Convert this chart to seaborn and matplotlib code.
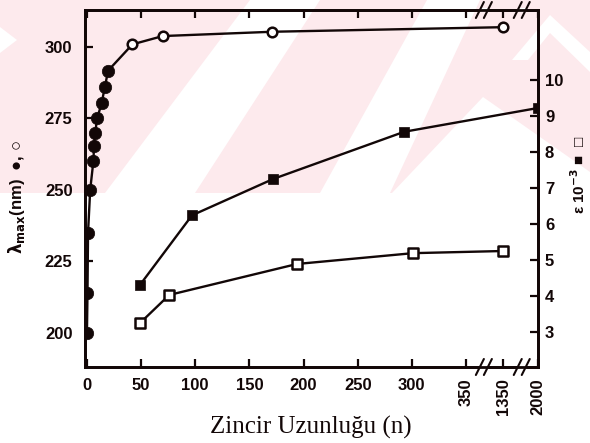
import numpy as np
import pandas as pd
import matplotlib
matplotlib.use("Agg")
import matplotlib.pyplot as plt
import seaborn as sns
from matplotlib.patches import Polygon
from matplotlib.ticker import FixedLocator, NullLocator

# --- data ---------------------------------------------------------------
# absorption maximum vs chain length (oligomers: filled, polymers: open)
n_filled = [0, 0.5, 1, 3, 6, 6.5, 7.5, 9.5, 13.5, 16.5, 19.5]
lam_filled = [200.0, 214.0, 235.0, 250.0, 260.2, 265.3, 269.8, 275.0, 280.2, 285.8, 291.6]
n_open = [42, 70, 171, 1350]
lam_open = [300.8, 303.7, 305.2, 306.8]

# molar absorptivity x 10^-3
n_eps_filled = [49, 97, 172, 293, 2000]
eps_filled = [4.31, 6.24, 7.25, 8.56, 9.22]
n_eps_open = [49, 76, 194, 301, 1350]
eps_open = [3.25, 4.03, 4.89, 5.19, 5.25]

x_ticks = [0, 50, 100, 150, 200, 250, 300, 350, 1350, 2000]
x_tick_labels = ["0", "50", "100", "150", "200", "250", "300", "350", "1350", "2000"]
lam_ticks = [200, 225, 250, 275, 300]
eps_ticks = [3, 4, 5, 6, 7, 8, 9, 10]
break_positions = [833, 1698]

sns.set_theme(style="ticks")
plt.rcParams["font.family"] = ["Liberation Sans", "DejaVu Sans"]
plt.rcParams["font.weight"] = "bold"
plt.rcParams["axes.linewidth"] = 1.8

W, H = 590, 443
fig = plt.figure(figsize=(W / 100, H / 100), dpi=100)
fig.patch.set_facecolor("white")


def P(x, y):
    """pixel position (top-left origin) -> figure fraction"""
    return (x / W, 1 - y / H)


# faint pink background band with white diagonal stripes
pink = "#fdeaed"
shapes = [
    (pink, [(0, 0), (590, 0), (590, 193), (0, 193)]),
    ("white", [(0, 27), (17, 40), (0, 53)]),
    ("white", [(105, 193), (195, 193), (320, 0), (250, 0)]),
    ("white", [(320, 193), (390, 193), (480, 0), (427, 0)]),
    ("white", [(392, 193), (483, 97), (590, 172), (590, 193)]),
    ("white", [(512, 60), (550, 15), (590, 52), (590, 72), (550, 33), (528, 60)]),
]
for i, (col, pts) in enumerate(shapes):
    fig.add_artist(Polygon([P(*p) for p in pts], closed=True, transform=fig.transFigure,
                           facecolor=col, edgecolor="none", zorder=-10 + i))

# axes
ax = fig.add_axes([85 / W, 1 - 367 / H, 453 / W, 357 / H])
ax.set_facecolor("none")

# broken x axis: linear up to 350, compressed 350-1350 and 1350-2000
_bx = np.array([-1000.0, 350.0, 1350.0, 2000.0, 10000.0])
_by = np.array([-1000.0, 350.0, 384.2, 416.5, 416.5 + 8000 * 0.0497])


def fwd(x):
    return np.interp(x, _bx, _by)


def inv(y):
    return np.interp(y, _by, _bx)


ax.set_xscale("function", functions=(fwd, inv))
ax2 = ax.twinx()
ax2.set_facecolor("none")

ink = "#120707"
lw = 1.7

# lambda_max curve
lam_df = pd.DataFrame({"n": n_filled + n_open, "lam": lam_filled + lam_open})
sns.lineplot(data=lam_df, x="n", y="lam", ax=ax, color=ink, lw=lw,
             sort=False, estimator=None, zorder=2)
sns.scatterplot(x=n_filled, y=lam_filled, ax=ax, marker="o", s=80,
                color=ink, edgecolor=ink, linewidth=0.5, zorder=3)
sns.scatterplot(x=n_open, y=lam_open, ax=ax, marker="o", s=48,
                color="white", edgecolor=ink, linewidth=1.8, zorder=3)

# epsilon curves
sns.lineplot(x=n_eps_filled, y=eps_filled, ax=ax2, color=ink, lw=lw,
             sort=False, estimator=None, zorder=2)
sns.lineplot(x=n_eps_open, y=eps_open, ax=ax2, color=ink, lw=lw,
             sort=False, estimator=None, zorder=2)
sns.scatterplot(x=n_eps_filled, y=eps_filled, ax=ax2, marker="s", s=62,
                color=ink, edgecolor=ink, linewidth=0.5, zorder=3)
sns.scatterplot(x=n_eps_open, y=eps_open, ax=ax2, marker="s", s=44,
                color="white", edgecolor=ink, linewidth=1.8, zorder=3)

# limits and ticks
ax.set_xlim(-1.8, 2000)
ax.set_ylim(188.1, 312.8)
ax2.set_ylim(2.03, 11.94)

ax.xaxis.set_major_locator(FixedLocator(x_ticks))
ax.xaxis.set_minor_locator(NullLocator())
ax.set_xticklabels(x_tick_labels)
for lbl in ax.get_xticklabels()[-3:]:
    lbl.set_rotation(90)
ax.set_yticks(lam_ticks)
ax.set_yticklabels([str(v) for v in lam_ticks])
ax2.set_yticks(eps_ticks)
ax2.set_yticklabels([str(v) for v in eps_ticks])
ax.yaxis.set_minor_locator(NullLocator())
ax2.yaxis.set_minor_locator(NullLocator())

ax.tick_params(axis="x", direction="in", length=6, width=1.6, top=True,
               labelsize=12, pad=8, colors=ink)
ax.tick_params(axis="y", direction="in", length=6, width=1.6, left=True, right=False,
               labelsize=12, pad=9, colors=ink)
ax2.tick_params(axis="y", direction="in", length=6, width=1.6, right=True, left=False,
                labelsize=12, pad=5, colors=ink)
for a in (ax, ax2):
    for s in a.spines.values():
        s.set_color(ink)
        s.set_linewidth(2.0)
ax.set_xlabel("")
ax.set_ylabel("")
ax2.set_ylabel("")

# axis break marks on the top and bottom spines
x0, x1 = fwd(-1.8), fwd(2000)
aw, ah = 453.0, 357.0
for bx in break_positions:
    xa = (fwd(bx) - x0) / (x1 - x0)
    for ya in (0.0, 1.0):
        ax.plot([xa - 3 / aw, xa + 3 / aw], [ya, ya], transform=ax.transAxes,
                color="white", lw=3, clip_on=False, zorder=6)
        for off in (-4, 4):
            xo = xa + off / aw
            ax.plot([xo - 4 / aw, xo + 4 / aw], [ya - 8 / ah, ya + 8 / ah],
                    transform=ax.transAxes, color=ink, lw=1.5, clip_on=False, zorder=7)

# axis titles
fig.text(*P(311, 434), "Zincir Uzunluğu (n)", ha="center", va="baseline",
         fontsize=18, fontweight="normal",
         family=["Liberation Serif", "DejaVu Serif"], color=ink)
fig.text(*P(17, 197), r"$\mathbf{\lambda_{max}}$(nm)  ●, ○", rotation=90,
         ha="center", va="center", fontsize=12, fontweight="bold",
         family=["Liberation Sans", "DejaVu Sans"], color=ink)
fig.text(*P(579, 175), r"ε 10$^{\mathbf{-3}}$ ■  □", rotation=90,
         ha="center", va="center", fontsize=11, fontweight="bold",
         family=["Liberation Sans", "DejaVu Sans"], color=ink)

fig.savefig("out.png", dpi=100)
